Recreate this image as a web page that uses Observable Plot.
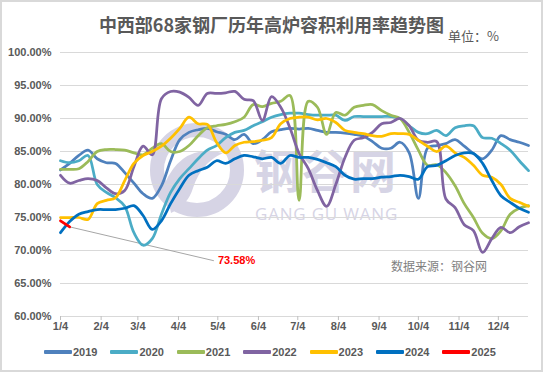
<!DOCTYPE html>
<html>
<head>
<meta charset="utf-8">
<script src="https://cdn.jsdelivr.net/npm/d3@7"></script>
<script src="https://cdn.jsdelivr.net/npm/@observablehq/plot@0.6"></script>
<style>
  body { margin: 0; background: #fff; }
  #frame { position: relative; width: 543px; height: 372px; overflow: hidden; background: #fff;
           font-family: "Liberation Sans", Arial, sans-serif; }
  #border { position: absolute; left: 0; top: 0; width: 543px; height: 372px; box-sizing: border-box;
            border: 2px solid #d9d9d9; pointer-events: none; z-index: 10; }
  #title { position: absolute; left: 0; width: 543px; top: 14px; text-align: center;
           font-family: "Noto Sans CJK SC", sans-serif; font-weight: bold; font-size: 18px;
           line-height: 20px; color: #595959; z-index: 3; }
  #unit { position: absolute; left: 448px; top: 28px; font-family: "Noto Sans CJK SC", sans-serif;
          font-size: 13px; line-height: 16px; color: #595959; z-index: 3; }
  #wmText { position: absolute; left: 254px; top: 145px; font-family: "Noto Sans CJK SC", sans-serif;
            font-size: 46px; line-height: 46px; letter-spacing: 2px; color: #d6d4e5; font-weight: bold; z-index: 1; }
  #wmEn { position: absolute; left: 255px; top: 205px; font-family: "Open Sans", sans-serif;
          font-size: 17px; line-height: 17px; color: #d6d4e5; letter-spacing: 0.8px; z-index: 1; }
  #logo { position: absolute; left: 143px; top: 113px; z-index: 1; }
  #chart { position: absolute; left: 0; top: 0; z-index: 2; }
  #source { position: absolute; left: 391px; top: 258px; font-family: "Noto Sans CJK SC", sans-serif;
            font-size: 12px; line-height: 16px; color: #7f7f7f; z-index: 3; }
  #legend { position: absolute; left: 44px; top: 346px; display: flex; z-index: 3; }
  .item { display: flex; align-items: center; width: 66.4px; font-weight: bold; font-size: 11px;
          color: #595959; }
  .sw { width: 28px; height: 4px; margin-right: 1px; border-radius: 1px; }
</style>
</head>
<body>
<div id="frame">
  <div id="border"></div>
  <div id="title">中西部68家钢厂历年高炉容积利用率趋势图</div>
  <div id="unit">单位：%</div>
  <svg id="logo" width="110" height="120">
    <circle cx="54" cy="57" r="40" fill="none" stroke="#d6d4e5" stroke-width="14"/>
    <path d="M22 70 Q40 30 80 40 Q58 50 50 75 Q45 92 28 100 Z" fill="#d6d4e5"/>
  </svg>
  <div id="wmText">钢谷网</div>
  <div id="wmEn">GANG GU WANG</div>
  <div id="chart"></div>
  <div id="source">数据来源：钢谷网</div>
  <div id="legend"></div>
</div>
<script>
// ---- data (weekly readings, starting 1/4) ----
const years = ["2019", "2020", "2021", "2022", "2023", "2024", "2025"];
const colors = ["#4F81BD", "#4BACC6", "#9BBB59", "#8064A2", "#FFC000", "#0070C0", "#FF0000"];
const tickLabels = ["1/4","2/4","3/4","4/4","5/4","6/4","7/4","8/4","9/4","10/4","11/4","12/4"];
const yTicks = [60, 65, 70, 75, 80, 85, 90, 95, 100];

const v2019 = [82.2,83.2,84.4,85.2,83.9,83.3,83.2,81.8,80.2,78.6,
               77.9,79.8,83.6,86.8,87.9,88.3,88.5,88.0,87.6,86.8,
               87.6,86.2,86.8,88.0,88.3,88.5,88.4,88.5,88.2,87.9,
               87.9,87.8,87.6,87.3,86.5,85.5,85.5,86.4,84.8,77.9,
               85.5,85.9,86.2,86.8,85.8,84.7,83.9,85.2,87.4,86.8,
               86.4,85.9];
const v2020 = [83.6,83.3,83.6,84.4,80.0,78.8,78.0,76.7,72.7,70.8,
               71.8,75.5,78.8,80.9,82.4,83.9,85.2,85.9,87.1,87.9,
               88.2,88.9,89.5,90.2,90.6,90.8,90.8,90.6,90.5,90.5,
               90.5,89.7,90.3,90.3,90.3,90.3,90.3,90.0,88.9,87.9,
               87.7,88.2,87.4,88.6,88.9,88.9,87.1,87.0,86.2,85.2,
               83.6,82.1];
const v2021 = [82.3,82.3,82.4,83.5,85.0,85.3,85.3,85.2,84.8,84.5,
               85.5,86.2,85.0,85.0,85.9,87.4,88.6,88.9,89.1,89.5,
               90.2,92.1,91.8,92.3,92.6,93.5,77.6,92.6,91.7,87.6,
               90.9,90.5,91.7,92.0,92.1,91.2,90.5,90.0,87.9,85.2,
               82.9,83.0,81.8,79.8,77.1,75.0,72.6,71.8,73.0,75.5,
               76.4,76.8];
const v2022 = [81.4,80.2,80.6,80.9,80.6,79.5,78.6,79.1,82.7,85.8,
               84.5,93.0,94.1,94.0,93.2,92.0,93.8,93.8,93.9,94.1,
               92.9,92.7,89.7,93.3,91.7,88.6,84.7,82.4,79.1,76.7,
               80.0,84.1,86.7,87.1,87.9,89.2,89.4,90.0,88.9,86.7,
               86.4,86.5,77.8,76.5,73.9,73.0,69.7,71.8,73.5,72.7,
               73.6,74.2];
const v2023 = [75.0,75.0,75.0,74.7,77.1,77.6,78.0,80.6,83.2,84.4,
               85.0,85.8,87.0,88.5,90.2,89.2,89.1,86.4,84.8,85.9,
               86.4,86.5,86.7,87.1,89.2,90.0,90.2,90.2,89.8,90.0,
               89.4,88.2,87.9,87.7,87.4,87.3,87.7,87.7,87.6,86.7,
               85.8,85.0,85.8,84.8,84.1,82.9,81.4,81.1,80.0,77.9,
               77.3,76.7];
const v2024 = [72.7,74.4,75.5,75.9,76.2,76.2,76.2,76.4,76.8,75.3,
               73.2,74.5,77.1,79.4,81.4,82.1,82.6,83.6,83.2,83.9,
               84.4,84.2,83.9,84.1,83.2,84.4,84.1,84.1,83.8,83.3,
               82.7,81.4,80.8,80.9,80.9,81.1,81.2,81.4,81.2,80.8,
               82.7,82.9,83.6,84.4,84.8,84.7,83.2,80.6,78.3,77.3,
               76.4,75.8];
const v2025 = [74.5, 73.58];

// annotation label anchor (data units)
const labelDate = "2025-05-01";
const labelValue = 68.45;

// ---- build ----
const series = [v2019, v2020, v2021, v2022, v2023, v2024, v2025];
const start = Date.UTC(2025, 0, 4);
const DAY = 86400000;
const weekDate = w => new Date(start + w * 7 * DAY);
const rows = series.flatMap((vals, k) => vals.map((v, w) => ({year: years[k], date: weekDate(w), value: v})));
const tickDates = tickLabels.map((_, m) => new Date(Date.UTC(2025, m, 4)));
const last = {date: weekDate(v2025.length - 1), value: v2025[v2025.length - 1]};
const lab = {date: new Date(labelDate + "T00:00:00Z"), value: labelValue};

const chart = Plot.plot({
  width: 543,
  height: 336,
  marginTop: 52,
  marginLeft: 60,
  marginRight: 15,
  marginBottom: 20,
  style: {background: "transparent", fontFamily: "'Liberation Sans', Arial, sans-serif",
          fontSize: "11px", fontWeight: "bold", color: "#595959"},
  x: {type: "utc", domain: [new Date(start), weekDate(51)]},
  y: {domain: [60, 100]},
  color: {domain: years, range: colors},
  marks: [
    Plot.gridY({ticks: yTicks, stroke: "#d9d9d9", strokeOpacity: 1}),
    Plot.axisY({ticks: yTicks, tickSize: 0, tickPadding: 9, label: null,
                tickFormat: d => d.toFixed(2) + "%"}),
    Plot.axisX({ticks: tickDates, tickSize: 4, tickPadding: 2, label: null, stroke: "#bfbfbf",
                tickFormat: d => tickLabels[d.getUTCMonth()]}),
    Plot.link([{x1: last.date, y1: last.value, x2: lab.date, y2: lab.value}],
              {x1: "x1", y1: "y1", x2: "x2", y2: "y2", stroke: "#a6a6a6", strokeWidth: 1}),
    Plot.line(rows, {x: "date", y: "value", z: "year", stroke: "year",
                     curve: "catmull-rom", strokeWidth: 2.75}),
    Plot.text([lab], {x: "date", y: "value", text: () => last.value.toFixed(2) + "%",
                      fill: "#FF0000", fontWeight: "bold", fontSize: 11, textAnchor: "start", dx: 4})
  ]
});
document.getElementById("chart").appendChild(chart);

const legend = document.getElementById("legend");
years.forEach((y, i) => {
  const it = document.createElement("div");
  it.className = "item";
  it.innerHTML = `<span class="sw" style="background:${colors[i]}"></span><span>${y}</span>`;
  legend.appendChild(it);
});
</script>
</body>
</html>
